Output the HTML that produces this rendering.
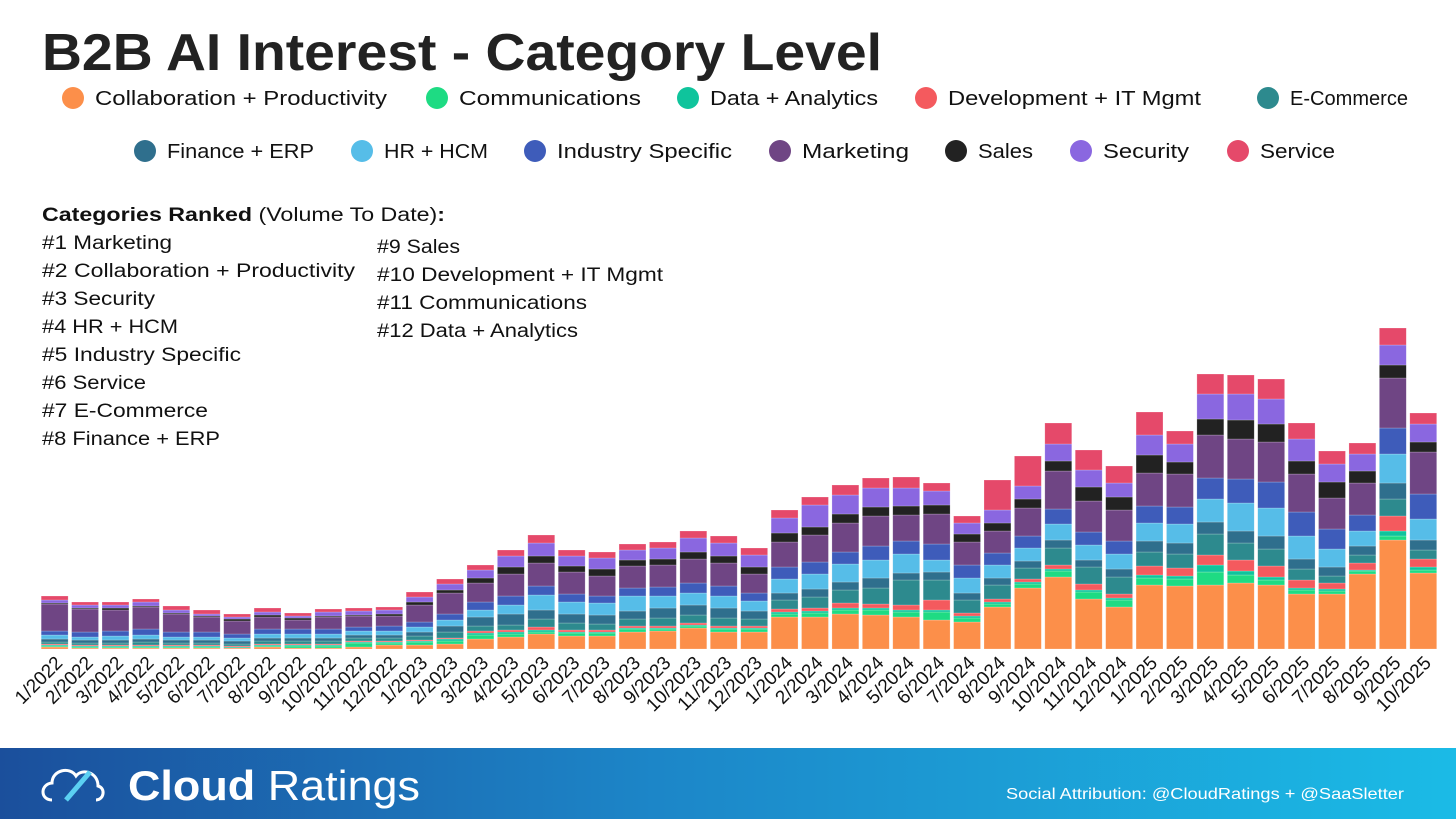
<!DOCTYPE html>
<html><head><meta charset="utf-8"><style>
html,body{margin:0;padding:0;background:#fff;}
svg{display:block;font-family:"Liberation Sans",sans-serif;}
</style></head><body>
<svg id="chart" width="1456" height="819" viewBox="0 0 1456 819">
<defs>
<linearGradient id="fg" x1="0" y1="0" x2="1" y2="0">
<stop offset="0" stop-color="#1b4f9c"/><stop offset="0.45" stop-color="#1c86c8"/><stop offset="1" stop-color="#1bbbe6"/>
</linearGradient>
</defs>
<text x="42" y="70" font-size="52" font-weight="bold" fill="#222" textLength="840" lengthAdjust="spacingAndGlyphs">B2B AI Interest - Category Level</text>
<g id="legend"></g>
<g font-size="19" fill="#111" lengthAdjust="spacingAndGlyphs">
<text x="42" y="221" textLength="403" lengthAdjust="spacingAndGlyphs"><tspan font-weight="bold">Categories Ranked</tspan> (Volume To Date)<tspan font-weight="bold">:</tspan></text>
<text x="42" y="249" textLength="130" lengthAdjust="spacingAndGlyphs">#1 Marketing</text>
<text x="42" y="277" textLength="313" lengthAdjust="spacingAndGlyphs">#2 Collaboration + Productivity</text>
<text x="42" y="305" textLength="113" lengthAdjust="spacingAndGlyphs">#3 Security</text>
<text x="42" y="333" textLength="136" lengthAdjust="spacingAndGlyphs">#4 HR + HCM</text>
<text x="42" y="361" textLength="199" lengthAdjust="spacingAndGlyphs">#5 Industry Specific</text>
<text x="42" y="389" textLength="104" lengthAdjust="spacingAndGlyphs">#6 Service</text>
<text x="42" y="417" textLength="166" lengthAdjust="spacingAndGlyphs">#7 E-Commerce</text>
<text x="42" y="445" textLength="178" lengthAdjust="spacingAndGlyphs">#8 Finance + ERP</text>
<text x="377" y="253" textLength="83" lengthAdjust="spacingAndGlyphs">#9 Sales</text>
<text x="377" y="281" textLength="286" lengthAdjust="spacingAndGlyphs">#10 Development + IT Mgmt</text>
<text x="377" y="309" textLength="210" lengthAdjust="spacingAndGlyphs">#11 Communications</text>
<text x="377" y="337" textLength="201" lengthAdjust="spacingAndGlyphs">#12 Data + Analytics</text>
</g>
<g id="bars"></g>
<g id="xaxis"></g>
<g>
<rect x="0" y="748" width="1456" height="71" fill="url(#fg)"/>
<g fill="none" stroke="#fff" stroke-width="3">
<path d="M52 800 C40 800 40 784 52 783 C52 770 70 766 76 776 C82 768 98 772 98 786 C106 788 104 800 96 800"/>
<path d="M66 800 L90 772" stroke="#5bd0f2" stroke-width="5"/>
</g>
<text x="128" y="800" font-size="42" fill="#fff" textLength="292" lengthAdjust="spacingAndGlyphs"><tspan font-weight="bold">Cloud</tspan> Ratings</text>
<text x="1006" y="799" font-size="16" fill="#fff" textLength="398" lengthAdjust="spacingAndGlyphs">Social Attribution: @CloudRatings + @SaaSletter</text>
</g>
</svg>
<script>
const months = ["1/2022","2/2022","3/2022","4/2022","5/2022","6/2022","7/2022","8/2022","9/2022","10/2022","11/2022","12/2022","1/2023","2/2023","3/2023","4/2023","5/2023","6/2023","7/2023","8/2023","9/2023","10/2023","11/2023","12/2023","1/2024","2/2024","3/2024","4/2024","5/2024","6/2024","7/2024","8/2024","9/2024","10/2024","11/2024","12/2024","1/2025","2/2025","3/2025","4/2025","5/2025","6/2025","7/2025","8/2025","9/2025","10/2025"];
const seriesNames = ["Collaboration + Productivity","Communications","Data + Analytics","Development + IT Mgmt","E-Commerce","Finance + ERP","HR + HCM","Industry Specific","Marketing","Sales","Security","Service"];
const seriesColors = ["#fc8f4a","#1edb83","#0fc49c","#f45a5e","#2d8a8e","#2f6f8d","#56bde8","#3e5cba","#6f4584","#222222","#8a67e0","#e5496a"];
const collab = [2,1,1,1,1,1,1,2,1,1,2,4,4,5,10,12,15,13,13,17,18,21,17,17,32,32,35,34,32,29,27,42,61,72,50,42,64,63,64,66,64,55,55,75,109,76];
const comm = [1,1,1,1,1,1,0,1,2,2,4,2,3,3,4,3,2,3,3,3,2,2,3,3,3,4,4,5,5,8,4,3,4,6,7,7,7,7,13,8,5,4,3,3,4,3];
const dataAn = [1,1,1,1,1,1,1,1,1,1,1,1,1,2,2,2,2,1,1,1,1,1,1,1,2,2,2,2,2,2,2,2,2,2,2,2,3,3,7,4,3,2,2,1,5,3];
const dev = [1,1,1,1,1,1,1,1,1,1,1,1,1,1,2,2,3,2,2,2,2,2,2,2,3,3,5,4,5,10,3,3,3,4,6,4,9,8,10,11,11,8,6,7,15,8];
const ecom = [2,2,2,3,2,2,2,3,3,3,3,3,4,6,5,5,8,7,6,7,8,8,8,7,9,11,13,16,25,20,13,14,11,17,17,17,14,14,21,17,17,11,7,8,17,9];
const fin = [3,3,3,3,3,3,3,3,3,3,3,3,4,6,9,11,9,9,9,8,10,10,10,8,7,8,8,10,7,8,7,7,7,8,7,8,11,11,12,12,13,10,9,9,16,10];
const hr = [4,3,4,4,3,3,3,4,4,4,4,4,5,6,7,9,15,12,12,15,12,12,12,10,14,15,18,18,19,12,15,13,13,16,15,15,18,19,23,28,28,23,18,15,29,21];
const ind = [4,5,5,6,5,5,4,5,5,5,4,5,5,6,8,9,9,8,7,8,9,10,10,8,12,12,12,14,13,16,13,12,12,15,13,13,17,17,21,24,26,24,20,16,26,25];
const mkt = [27,23,21,22,18,15,13,12,9,12,11,10,17,21,19,22,23,22,20,22,22,24,23,19,25,27,29,30,26,30,23,22,28,38,31,31,33,33,43,40,40,38,31,32,50,42];
const sales = [1,1,2,1,1,1,2,2,2,1,1,2,3,3,5,7,7,6,7,6,6,7,7,7,9,8,9,9,9,9,8,8,9,10,14,13,18,12,16,19,18,13,16,12,13,10];
const sec = [3,3,3,4,3,2,2,3,2,4,4,4,5,6,8,11,13,10,11,10,11,14,13,12,15,22,19,19,18,14,11,13,13,17,17,14,20,18,25,26,25,22,18,17,20,18];
const serv = [4,3,3,3,4,4,3,4,3,3,3,3,5,5,5,6,8,6,6,6,6,7,7,7,8,8,10,10,11,8,7,30,30,21,20,17,23,13,20,19,20,16,13,11,17,11];
const allSeries = [collab,comm,dataAn,dev,ecom,fin,hr,ind,mkt,sales,sec,serv];

const NS = "http://www.w3.org/2000/svg";
const plotLeft = 41, plotRight = 1440, baseY = 649, plotTop = 309, yMax = 340;
const step = (plotRight - plotLeft) / months.length;
const barW = step - 3.5;
function xScale(i){ return plotLeft + i * step + 0.2; }
function yScale(v){ return baseY - (v / yMax) * (baseY - plotTop); }

const barsG = document.getElementById('bars');
months.forEach((m, i) => {
  const g = document.createElementNS(NS, 'g');
  
  
  let cum = 0;
  allSeries.forEach((s, si) => {
    const v = s[i];
    if (v <= 0) return;
    const y0 = yScale(cum), y1 = yScale(cum + v);
    cum += v;
    const r = document.createElementNS(NS, 'rect');
    r.setAttribute('x', xScale(i));
    r.setAttribute('y', y1);
    r.setAttribute('width', barW);
    r.setAttribute('height', Math.max(0.5, y0 - y1));
    r.setAttribute('fill', seriesColors[si]);
    r.setAttribute('stroke', 'rgba(255,255,255,0.35)');
    r.setAttribute('stroke-width', '0.6');
    
    
    g.appendChild(r);
  });
  barsG.appendChild(g);
});

const xG = document.getElementById('xaxis');
months.forEach((m, i) => {
  const cx = xScale(i) + barW / 2 + 9;
  const t = document.createElementNS(NS, 'text');
  t.setAttribute('x', cx);
  t.setAttribute('y', 664);
  t.setAttribute('text-anchor', 'end');
  t.setAttribute('font-size', '19');
  t.setAttribute('fill', '#111');
  t.setAttribute('transform', 'rotate(-45 ' + cx + ' 664)');
  
  
  t.textContent = m;
  xG.appendChild(t);
});

const legendPos = [[73,98],[437,98],[688,98],[926,98],[1268,98],[145,151],[362,151],[535,151],[780,151],[956,151],[1081,151],[1238,151]];
const legendWidths = [292,182,168,253,118,147,104,175,107,55,86,75];
const legendG = document.getElementById('legend');
seriesNames.forEach((n, i) => {
  const g = document.createElementNS(NS, 'g');
  
  
  const c = document.createElementNS(NS, 'circle');
  c.setAttribute('cx', legendPos[i][0]);
  c.setAttribute('cy', legendPos[i][1]);
  c.setAttribute('r', 11);
  c.setAttribute('fill', seriesColors[i]);
  
  
  const t = document.createElementNS(NS, 'text');
  t.setAttribute('x', legendPos[i][0] + 22);
  t.setAttribute('y', legendPos[i][1] + 7);
  t.setAttribute('font-size', '20');
  t.setAttribute('fill', '#111');
  t.setAttribute('textLength', legendWidths[i]);
  t.setAttribute('lengthAdjust', 'spacingAndGlyphs');
  
  
  t.textContent = n;
  g.appendChild(c); g.appendChild(t);
  legendG.appendChild(g);
});
</script>
</body></html>
